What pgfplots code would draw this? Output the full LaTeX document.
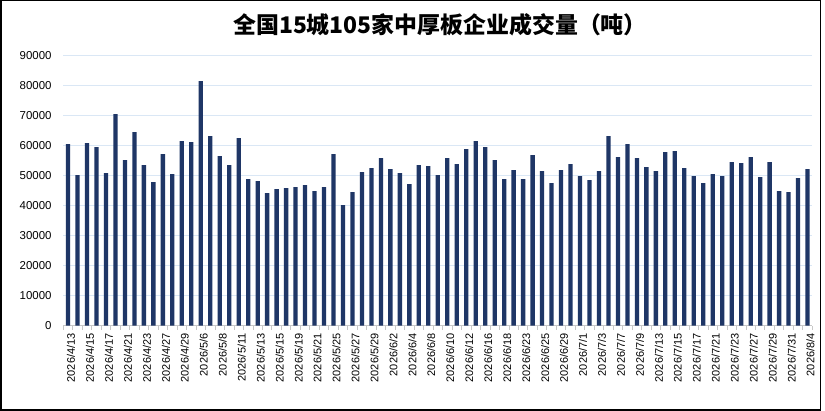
\documentclass[border=0pt]{standalone}
\usepackage{pgfplots}
\pgfplotsset{compat=1.18}
\usepackage{fontspec}
\setmainfont{Liberation Sans}
\newfontfamily\cjk{Noto Sans CJK SC}
\definecolor{barblue}{RGB}{31,54,102}
\definecolor{gridblue}{RGB}{218,231,245}
\definecolor{axgray}{RGB}{200,200,200}
\begin{document}
\begin{tikzpicture}
\useasboundingbox (0,0) rectangle (825bp,411bp);
\fill[white] (0,0) rectangle (825bp,411bp);
\draw[black,line width=1.5bp] (0.8bp,0.8bp) rectangle (820.5bp,410.3bp);
\node[font={\cjk\bfseries\fontsize{23}{26}\selectfont}] at (440bp,386bp) {全国15城105家中厚板企业成交量（吨）};
\begin{axis}[
  at={(63.3bp,85.3bp)}, anchor=south west,
  scale only axis, width=749bp, height=270bp,
  xmin=0.5, xmax=79.5, ymin=0, ymax=90000,
  ytick={0,10000,...,90000},
  scaled y ticks=false,
  /pgf/number format/assume math mode=true,
  yticklabel style={font=\fontsize{11.5}{13}\selectfont, /pgf/number format/fixed, /pgf/number format/1000 sep={}, xshift=-4bp},
  ymajorgrids, grid style={gridblue, line width=0.9bp},
  axis x line*=bottom, axis y line*=left,
  y axis line style={draw=none},
  x axis line style={axgray, line width=1bp, -},
  xtick={1,3,...,79},
  major x tick style={draw=none},
  minor xtick={0.5,1.5,...,79.5},
  minor x tick style={axgray, line width=0.8bp},
  minor tick length=4bp,
  tick align=outside,
  xticklabels={2026/4/13,2026/4/15,2026/4/17,2026/4/21,2026/4/23,2026/4/27,2026/4/29,2026/5/6,2026/5/8,2026/5/11,2026/5/13,2026/5/15,2026/5/19,2026/5/21,2026/5/25,2026/5/27,2026/5/29,2026/6/2,2026/6/4,2026/6/8,2026/6/10,2026/6/12,2026/6/16,2026/6/18,2026/6/23,2026/6/25,2026/6/29,2026/7/1,2026/7/3,2026/7/7,2026/7/9,2026/7/13,2026/7/15,2026/7/17,2026/7/21,2026/7/23,2026/7/27,2026/7/29,2026/7/31,2026/8/4},
  xticklabel style={rotate=90, anchor=east, font=\fontsize{11}{12}\selectfont, yshift=-3bp},
  major y tick style={draw=none},
]
\addplot[ybar, bar width=4.3bp, fill=barblue, draw=none] coordinates {
(1,60550)(2,50200)(3,60900)(4,59550)(5,50900)(6,70550)(7,55200)(8,64550)(9,53550)(10,47900)
(11,57200)(12,50550)(13,61550)(14,61200)(15,81550)(16,63200)(17,56550)(18,53550)(19,62550)(20,48900)
(21,48200)(22,44200)(23,45550)(24,45900)(25,46200)(26,46900)(27,44900)(28,46200)(29,57200)(30,40200)
(31,44550)(32,51200)(33,52550)(34,55900)(35,52200)(36,50900)(37,47200)(38,53550)(39,53200)(40,50200)
(41,55900)(42,53900)(43,58900)(44,61550)(45,59550)(46,55200)(47,48900)(48,51900)(49,48900)(50,56900)
(51,51550)(52,47550)(53,51900)(54,53900)(55,49900)(56,48550)(57,51550)(58,63200)(59,56200)(60,60550)
(61,55900)(62,52900)(63,51550)(64,57900)(65,58200)(66,52550)(67,49900)(68,47550)(69,50550)(70,49900)
(71,54550)(72,54200)(73,56200)(74,49550)(75,54550)(76,44900)(77,44550)(78,49200)(79,52200)
};
\end{axis}
\end{tikzpicture}
\end{document}
